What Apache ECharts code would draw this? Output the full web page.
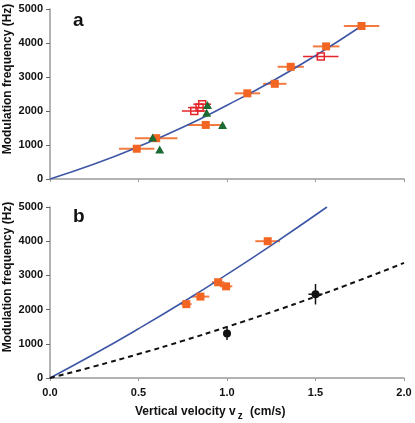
<!DOCTYPE html>
<html lang="en">
<head>
    <meta charset="utf-8">
    <title>Modulation frequency vs vertical velocity</title>
    <script src="https://cdn.jsdelivr.net/npm/echarts@6/dist/echarts.min.js"></script>
    <style>
        html, body { margin: 0; padding: 0; background: #fff; }
        #chart { width: 415px; height: 423px; }
    </style>
</head>
<body>
<div id="chart"></div>
<script>
    // panel a
    var topOrangeV = [0.49, 0.60, 0.88, 1.115, 1.27, 1.36, 1.56, 1.76];
    var topOrangeF = [890, 1200, 1590, 2520, 2800, 3300, 3900, 4500];
    var topOrangeErr = [0.10, 0.12, 0.105, 0.072, 0.066, 0.074, 0.075, 0.10];
    var topOpenV = [0.815, 0.845, 0.86, 1.53];
    var topOpenF = [2000, 2100, 2200, 3600];
    var topOpenErr = [0.07, 0.065, 0.05, 0.10];
    var topTriV = [0.58, 0.62, 0.885, 0.89, 0.975];
    var topTriF = [1220, 870, 1950, 2180, 1590];
    var topFitV = [0, 0.25, 0.5, 0.75, 1.0, 1.25, 1.5, 1.76];
    var topFitF = [0, 440, 950, 1520, 2170, 2860, 3630, 4500];

    // panel b
    var botOrangeV = [0.77, 0.85, 0.95, 0.995, 1.23];
    var botOrangeF = [2160, 2380, 2800, 2680, 4000];
    var botOrangeErr = [0.03, 0.05, 0.035, 0.035, 0.07];
    var botBlackV = [1.0, 1.5];
    var botBlackF = [1300, 2450];
    var botBlackXErr = [0, 0.04];
    var botBlackYErr = [190, 300];
    var botFitV = [0, 0.25, 0.5, 0.75, 1.0, 1.25, 1.565];
    var botFitF = [0, 700, 1440, 2215, 3030, 3880, 5000];
    var botDashV = [0, 0.25, 0.5, 0.75, 1.0, 1.25, 1.5, 1.75, 2.0];
    var botDashF = [0, 340, 700, 1085, 1495, 1925, 2380, 2860, 3365];

    var yTicks = ['0', '1000', '2000', '3000', '4000', '5000'];
    var xTicks = ['0.0', '0.5', '1.0', '1.5', '2.0'];

    var FONT = 'Liberation Sans, Arial, sans-serif';
    var ORANGE = '#f26522';
    var ORANGE_BAR = '#f47b40';
    var RED = '#e5262b';
    var GREEN = '#1c6a34';
    var BLUE = '#3d56a6';

    function zip(a, b, c, d) {
        return a.map(function (v, i) {
            var row = [v, b[i]];
            if (c) row.push(c[i]);
            if (d) row.push(d[i]);
            return row;
        });
    }

    // horizontal / vertical error bars through the axis scales
    function errorBars(gridIdx, data, color, width) {
        return {
            type: 'custom',
            xAxisIndex: gridIdx,
            yAxisIndex: gridIdx,
            data: data,
            z: 1,
            silent: true,
            renderItem: function (params, api) {
                var x = api.value(0), y = api.value(1);
                var dx = api.value(2) || 0, dy = api.value(3) || 0;
                var kids = [];
                if (dx > 0) {
                    var a = api.coord([x - dx, y]), b = api.coord([x + dx, y]);
                    kids.push({ type: 'line', shape: { x1: a[0], y1: a[1], x2: b[0], y2: b[1] },
                        style: { stroke: color, lineWidth: width } });
                }
                if (dy > 0) {
                    var c = api.coord([x, y - dy]), d = api.coord([x, y + dy]);
                    kids.push({ type: 'line', shape: { x1: c[0], y1: c[1], x2: d[0], y2: d[1] },
                        style: { stroke: color, lineWidth: width } });
                }
                return { type: 'group', children: kids };
            }
        };
    }

    function xAxis(gridIdx, offset, showLabel) {
        return {
            gridIndex: gridIdx, type: 'value', min: 0, max: 2, interval: 0.5,
            offset: offset,
            axisLine: { show: true, lineStyle: { color: '#9a9a9a', width: 1.5 } },
            axisTick: { show: true, length: 3, lineStyle: { color: '#9a9a9a' } },
            axisLabel: {
                show: showLabel, margin: 4, color: '#111', fontWeight: 'bold',
                fontSize: 11, fontFamily: FONT,
                formatter: function (v) { return xTicks[Math.round(v / 0.5)]; }
            },
            splitLine: { show: false }
        };
    }

    function yAxis(gridIdx) {
        return {
            gridIndex: gridIdx, type: 'value', min: 0, max: 5000, interval: 1000,
            offset: 5,
            axisLine: { show: true, lineStyle: { color: '#9a9a9a', width: 1.5 } },
            axisTick: { show: true, length: 4, lineStyle: { color: '#666' } },
            axisLabel: {
                margin: 2, color: '#111', fontWeight: 'bold', fontSize: 11, fontFamily: FONT,
                formatter: function (v) { return yTicks[Math.round(v / 1000)]; }
            },
            splitLine: { show: false }
        };
    }

    var chart = echarts.init(document.getElementById('chart'));
    var option = {
        animation: false,
        backgroundColor: '#fff',
        grid: [
            { left: 50, right: 11, top: 9, height: 170 },
            { left: 50, right: 11, top: 207, height: 171 }
        ],
        xAxis: [xAxis(0, 7, false), xAxis(1, 5, true)],
        yAxis: [yAxis(0), yAxis(1)],
        graphic: [
            { type: 'text', left: 73, top: 11, style: { text: 'a', font: 'bold 19px ' + FONT, fill: '#111' } },
            { type: 'text', left: 73, top: 207, style: { text: 'b', font: 'bold 19px ' + FONT, fill: '#111' } },
            { type: 'text', x: 8, y: 79, rotation: Math.PI / 2,
              style: { text: 'Modulation frequency (Hz)', font: 'bold 12px ' + FONT, fill: '#111',
                       align: 'center', verticalAlign: 'middle' } },
            { type: 'text', x: 8, y: 277, rotation: Math.PI / 2,
              style: { text: 'Modulation frequency (Hz)', font: 'bold 12px ' + FONT, fill: '#111',
                       align: 'center', verticalAlign: 'middle' } },
            { type: 'text', x: 135, y: 402,
              style: {
                  text: 'Vertical velocity v{sub|z} (cm/s)',
                  font: 'bold 12px ' + FONT, fill: '#111',
                  rich: { sub: { fontSize: 10, fontWeight: 'bold', fontFamily: FONT, fill: '#111', padding: [9, 4, 0, 2] } }
              } }
        ],
        series: [
            // panel a
            { type: 'line', xAxisIndex: 0, yAxisIndex: 0, data: zip(topFitV, topFitF), smooth: true,
              showSymbol: false, lineStyle: { color: BLUE, width: 1.6 }, z: 2 },
            errorBars(0, zip(topOrangeV, topOrangeF, topOrangeErr), ORANGE_BAR, 2),
            errorBars(0, zip(topOpenV, topOpenF, topOpenErr), RED, 1.5),
            { type: 'scatter', xAxisIndex: 0, yAxisIndex: 0, data: zip(topOrangeV, topOrangeF),
              symbol: 'rect', symbolSize: 8, itemStyle: { color: ORANGE, opacity: 1 }, z: 3 },
            { type: 'scatter', xAxisIndex: 0, yAxisIndex: 0, data: zip(topOpenV, topOpenF),
              symbol: 'rect', symbolSize: 7,
              itemStyle: { color: 'rgba(255,255,255,0)', borderColor: RED, borderWidth: 1.5, opacity: 1 }, z: 3 },
            { type: 'scatter', xAxisIndex: 0, yAxisIndex: 0, data: zip(topTriV, topTriF),
              symbol: 'triangle', symbolSize: [9, 8], itemStyle: { color: GREEN, opacity: 1 }, z: 4 },
            // panel b
            { type: 'line', xAxisIndex: 1, yAxisIndex: 1, data: zip(botFitV, botFitF), smooth: true,
              showSymbol: false, lineStyle: { color: BLUE, width: 1.6 }, z: 2 },
            { type: 'line', xAxisIndex: 1, yAxisIndex: 1, data: zip(botDashV, botDashF), smooth: true,
              showSymbol: false, lineStyle: { color: '#111', width: 2, type: [5, 4] }, z: 2 },
            errorBars(1, zip(botOrangeV, botOrangeF, botOrangeErr), ORANGE_BAR, 2),
            errorBars(1, zip(botBlackV, botBlackF, botBlackXErr, botBlackYErr), '#111', 1.5),
            { type: 'scatter', xAxisIndex: 1, yAxisIndex: 1, data: zip(botOrangeV, botOrangeF),
              symbol: 'rect', symbolSize: 8, itemStyle: { color: ORANGE, opacity: 1 }, z: 3 },
            { type: 'scatter', xAxisIndex: 1, yAxisIndex: 1, data: zip(botBlackV, botBlackF),
              symbol: 'circle', symbolSize: 8, itemStyle: { color: '#111', opacity: 1 }, z: 3 }
        ]
    };
    chart.setOption(option);
</script>
</body>
</html>
